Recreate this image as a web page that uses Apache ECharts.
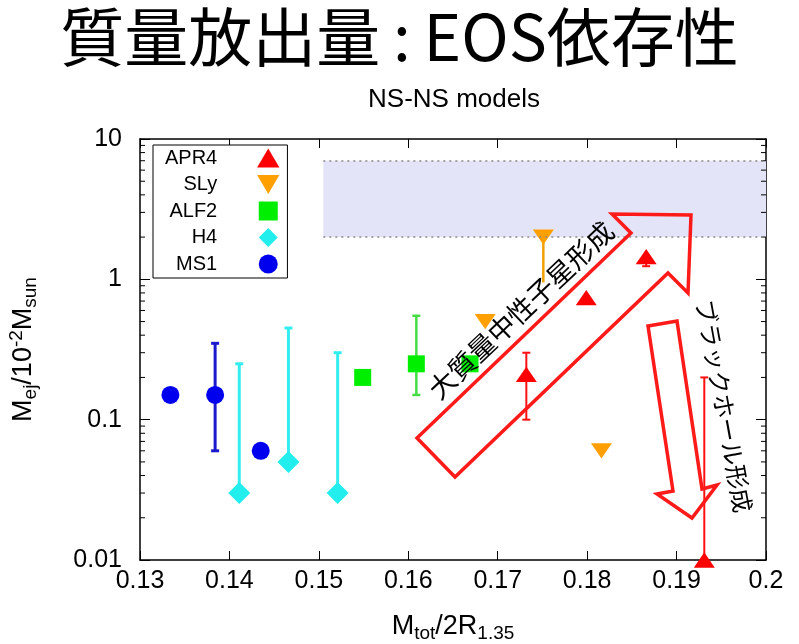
<!DOCTYPE html>
<html>
<head>
<meta charset="utf-8">
<script src="https://cdn.jsdelivr.net/npm/echarts@6/dist/echarts.min.js"></script>
<style>
html, body { margin: 0; padding: 0; background: #fff; }
#chart { width: 799px; height: 644px; }
</style>
</head>
<body>
<div id="chart"></div>
<script>
// points [x, Mej]
let apr4 = [[0.1732, 0.21], [0.1799, 0.74], [0.1866, 1.45], [0.1931, 0.01]];
let sly = [[0.1751, 2.0], [0.1686, 0.5], [0.1816, 0.06]];
let alf2 = [[0.1549, 0.2], [0.1609, 0.25], [0.1669, 0.25]];
let h4 = [[0.1411, 0.03], [0.1466, 0.05], [0.1521, 0.03]];
let ms1 = [[0.1334, 0.15], [0.1384, 0.15], [0.1435, 0.06]];

// error bars [x, y, low, high]
let apr4Err = [[0.1732, 0.21, 0.1, 0.3], [0.1866, 1.45, 1.24, 1.45], [0.1931, 0.01, 0.01, 0.2]];
let slyErr = [[0.1751, 2.0, 0.95, 2.0]];
let alf2Err = [[0.1609, 0.25, 0.15, 0.55]];
let h4Err = [[0.1411, 0.03, 0.03, 0.25], [0.1466, 0.05, 0.05, 0.45], [0.1521, 0.03, 0.03, 0.3]];
let ms1Err = [[0.1384, 0.15, 0.06, 0.35]];

// shaded band
let bandX = [0.1505, 0.2];
let bandY = [2, 7];

let xTicks = [0.13, 0.14, 0.15, 0.16, 0.17, 0.18, 0.19, 0.2];
let yTicks = [0.01, 0.1, 1, 10];
let yMinor = [0.02, 0.03, 0.04, 0.05, 0.06, 0.07, 0.08, 0.09,
    0.2, 0.3, 0.4, 0.5, 0.6, 0.7, 0.8, 0.9,
    2, 3, 4, 5, 6, 7, 8, 9];

let legendNames = ['APR4', 'SLy', 'ALF2', 'H4', 'MS1'];
// ----------------------------------------------------
let font = 'Liberation Sans, Arial, sans-serif';
let jp = 'Noto Sans CJK JP, sans-serif';

let triUp = 'path://M10,0L20,17L0,17Z';
let triDown = 'path://M0,0L20,0L10,17Z';
let square = 'path://M0,0L10,0L10,10L0,10Z';
let diamond = 'path://M10,0L20,10L10,20L0,10Z';

function errorBars(color, width, cap) {
    return function (params, api) {
        let x = api.value(0), y = api.value(1);
        let lo = api.value(2), hi = api.value(3);
        let pLo = api.coord([x, lo]);
        let pHi = api.coord([x, hi]);
        let style = { stroke: color, lineWidth: width };
        let children = [{
            type: 'line',
            shape: { x1: pLo[0], y1: pLo[1], x2: pHi[0], y2: pHi[1] },
            style: style
        }];
        if (cap > 0) {
            if (lo !== y) children.push({ type: 'line', shape: { x1: pLo[0] - cap, y1: pLo[1], x2: pLo[0] + cap, y2: pLo[1] }, style: style });
            if (hi !== y) children.push({ type: 'line', shape: { x1: pHi[0] - cap, y1: pHi[1], x2: pHi[0] + cap, y2: pHi[1] }, style: style });
        }
        return { type: 'group', children: children };
    };
}

function errSeries(data, color, width, cap) {
    return {
        type: 'custom',
        data: data,
        encode: { x: 0, y: 1 },
        renderItem: errorBars(color, width, cap),
        clip: false,
        silent: true,
        z: 3
    };
}

function pointSeries(name, data, symbol, size, color) {
    return {
        name: name,
        type: 'scatter',
        data: data,
        symbol: symbol,
        symbolSize: size,
        symbolKeepAspect: true,
        itemStyle: { color: color, opacity: 1 },
        clip: false,
        z: 4
    };
}

let chart = echarts.init(document.getElementById('chart'));
let option = {
    backgroundColor: '#fff',
    animation: false,
    title: {
        text: '質量放出量\u2009:\u2009EOS依存性',
        left: 'center',
        top: 0,
        textStyle: { fontFamily: jp, fontSize: 64, fontWeight: 'normal', color: '#000' }
    },
    legend: {
        data: legendNames,
        orient: 'vertical',
        align: 'right',
        left: 153,
        top: 145,
        padding: [3, 8, 4, 12],
        itemWidth: 92,
        itemHeight: 19,
        itemGap: 6.5,
        borderColor: '#000',
        borderWidth: 1,
        borderRadius: 0,
        backgroundColor: '#fff',
        selectedMode: false,
        textStyle: { fontFamily: font, fontSize: 20, color: '#000' }
    },
    grid: {
        left: 140,
        right: 33,
        top: 139,
        bottom: 84,
        outerBoundsMode: 'none'
    },
    xAxis: [{
        type: 'value',
        min: 0.13,
        max: 0.2,
        interval: 0.01,
        name: 'M{sub|tot}/2R{sub|1.35}',
        nameLocation: 'middle',
        nameGap: 50,
        nameTextStyle: {
            fontFamily: font, fontSize: 27, color: '#000',
            rich: { sub: { fontFamily: font, fontSize: 19, color: '#000', padding: [14, 0, 0, 0] } }
        },
        axisLine: { show: true, lineStyle: { color: '#000', width: 1.5 } },
        axisTick: { show: true, inside: true, length: 9, lineStyle: { color: '#000', width: 1 } },
        axisLabel: {
            margin: 9,
            fontFamily: font, fontSize: 25, color: '#000',
            formatter: function (v) { return String(+v.toFixed(2)); }
        },
        splitLine: { show: false }
    }, {
        type: 'value',
        position: 'top',
        min: 0.13,
        max: 0.2,
        interval: 0.01,
        axisLine: { show: true, lineStyle: { color: '#000', width: 1.5 } },
        axisTick: { show: true, inside: true, length: 9, lineStyle: { color: '#000', width: 1 } },
        axisLabel: { show: false },
        splitLine: { show: false }
    }],
    yAxis: [{
        type: 'log',
        logBase: 10,
        min: 0.01,
        max: 10,
        name: 'M{sub|ej}/10{sup|-2}M{sub|sun}',
        nameLocation: 'middle',
        nameGap: 100,
        nameTextStyle: {
            fontFamily: font, fontSize: 27, color: '#000',
            rich: {
                sub: { fontFamily: font, fontSize: 19, color: '#000', padding: [14, 0, 0, 0] },
                sup: { fontFamily: font, fontSize: 19, color: '#000', padding: [0, 0, 14, 0] }
            }
        },
        axisLine: { show: true, lineStyle: { color: '#000', width: 1.5 } },
        axisTick: { show: true, inside: true, length: 10, lineStyle: { color: '#000', width: 1 } },
        axisLabel: {
            margin: 18,
            fontFamily: font, fontSize: 25, color: '#000',
            formatter: function (v) { return String(+v.toPrecision(3)); }
        },
        splitLine: { show: false }
    }, {
        type: 'log',
        logBase: 10,
        min: 0.01,
        max: 10,
        position: 'right',
        axisLine: { show: true, lineStyle: { color: '#000', width: 1.5 } },
        axisTick: { show: true, inside: true, length: 10, lineStyle: { color: '#000', width: 1 } },
        axisLabel: { show: false },
        splitLine: { show: false }
    }],
    series: [
        {
            // shaded band
            type: 'line',
            data: [],
            silent: true,
            z: 1,
            markArea: {
                silent: true,
                itemStyle: { color: '#e4e4f8', opacity: 1 },
                data: [[{ coord: [bandX[0], bandY[0]] }, { coord: [bandX[1], bandY[1]] }]]
            },
            markLine: {
                silent: true,
                symbol: 'none',
                label: { show: false },
                lineStyle: { color: '#888', width: 1.5, type: [2, 4] },
                data: [
                    [{ coord: [bandX[0], bandY[0]] }, { coord: [bandX[1], bandY[0]] }],
                    [{ coord: [bandX[0], bandY[1]] }, { coord: [bandX[1], bandY[1]] }]
                ]
            }
        },
        {
            // minor ticks on log axis, both sides
            type: 'custom',
            data: yMinor.map(function (v) { return [0.13, v]; }),
            encode: { x: 0, y: 1 },
            silent: true,
            clip: false,
            z: 2,
            renderItem: function (params, api) {
                let cs = params.coordSys;
                let y = api.coord([0.13, api.value(1)])[1];
                let style = { stroke: '#000', lineWidth: 1 };
                return {
                    type: 'group',
                    children: [
                        { type: 'line', shape: { x1: cs.x, y1: y, x2: cs.x + 5, y2: y }, style: style },
                        { type: 'line', shape: { x1: cs.x + cs.width - 5, y1: y, x2: cs.x + cs.width, y2: y }, style: style }
                    ]
                };
            }
        },
        errSeries(ms1Err, '#1a1acc', 3, 4),
        errSeries(h4Err, '#33eeee', 3, 4),
        errSeries(alf2Err, '#44dd44', 2.5, 4),
        errSeries(slyErr, '#f0a000', 2.5, 0),
        errSeries(apr4Err, '#ff1010', 2, 4),
        pointSeries('APR4', apr4, triUp, [21, 18], '#ff0000'),
        pointSeries('SLy', sly, triDown, [21, 18], '#ffa000'),
        pointSeries('ALF2', alf2, square, 17, '#00ee00'),
        pointSeries('H4', h4, diamond, 22, '#22eeee'),
        pointSeries('MS1', ms1, 'circle', 18, '#0000ee')
    ],
    graphic: [
        {
            type: 'text',
            x: 454,
            y: 100,
            style: { text: 'NS-NS models', fontFamily: font, fontSize: 26, fill: '#000', align: 'center', verticalAlign: 'middle' }
        },
        {
            type: 'polygon',
            z: 50,
            shape: { points: [[417, 438], [631, 233], [612, 214], [691, 215], [688, 293], [668, 273], [455, 477]] },
            style: { fill: 'none', stroke: '#ff1a1a', lineWidth: 3.5, lineJoin: 'miter' }
        },
        {
            type: 'polygon',
            z: 50,
            shape: { points: [[648, 326], [677, 321], [702, 489], [717, 485], [692, 518], [657, 494], [673, 491]] },
            style: { fill: 'none', stroke: '#ff1a1a', lineWidth: 3.5, lineJoin: 'miter' }
        },
        {
            type: 'text',
            z: 60,
            x: 521,
            y: 310,
            rotation: 43.4 * Math.PI / 180,
            style: { text: '大質量中性子星形成', fontFamily: jp, fontSize: 27, fill: '#000', align: 'center', verticalAlign: 'middle' }
        },
        {
            type: 'text',
            z: 60,
            x: 724,
            y: 406,
            rotation: -79.5 * Math.PI / 180,
            style: { text: 'ブラックホール形成', fontFamily: jp, fontSize: 24, fill: '#000', align: 'center', verticalAlign: 'middle' }
        }
    ]
};

chart.setOption(option);
</script>
</body>
</html>
